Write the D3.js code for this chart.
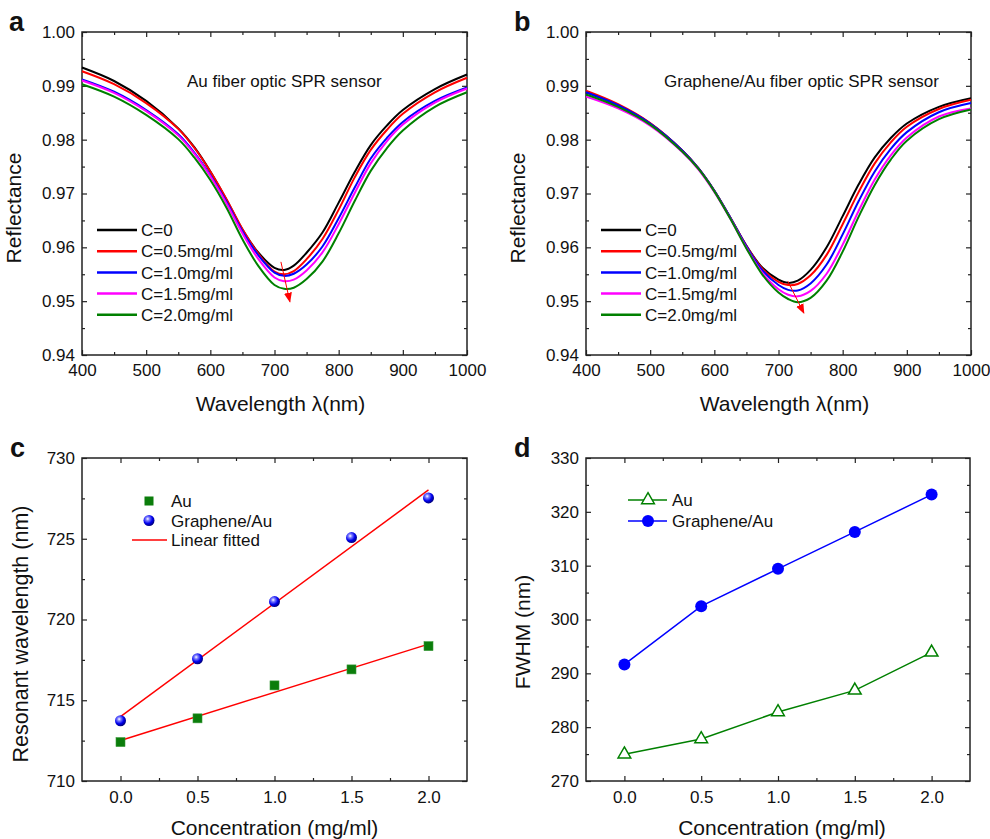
<!DOCTYPE html>
<html>
<head>
<meta charset="utf-8">
<script src="https://cdn.jsdelivr.net/npm/d3@7"></script>
<style>
  body { margin: 0; background: #fff; }
  svg { font-family: Arial, "Liberation Sans", sans-serif; }
  .tick line { stroke: #222; stroke-width: 1.2; }
  .tick text { font-size: 17px; fill: #111; }
</style>
</head>
<body>
<script>

// ---- data ----
const wavelength = [400,450,500,550,575,600,625,650,675,700,715,730,750,775,800,825,850,875,900,950,1000];

const concLabels = ["C=0","C=0.5mg/ml","C=1.0mg/ml","C=1.5mg/ml","C=2.0mg/ml"];
const curveColors = ["#000000","#ff0000","#0000ff","#ff00ff","#008000"];

// panel a : Au sensor
const auR0  = [0.9934,0.9909,0.9872,0.9821,0.9786,0.9741,0.9689,0.9633,0.9590,0.9562,0.9558,0.9566,0.9590,0.9628,0.9683,0.9740,0.9790,0.9826,0.9855,0.9894,0.9921];
const auR05 = [0.9927,0.9903,0.9868,0.9820,0.9785,0.9741,0.9690,0.9634,0.9588,0.9555,0.9550,0.9556,0.9578,0.9616,0.9670,0.9730,0.9781,0.9818,0.9848,0.9888,0.9915];
const auR10 = [0.9912,0.9889,0.9855,0.9810,0.9776,0.9734,0.9685,0.9630,0.9585,0.9553,0.9547,0.9551,0.9568,0.9602,0.9654,0.9711,0.9765,0.9803,0.9833,0.9872,0.9897];
const auR15 = [0.9910,0.9887,0.9853,0.9808,0.9774,0.9732,0.9682,0.9626,0.9578,0.9544,0.9537,0.9540,0.9557,0.9591,0.9643,0.9701,0.9756,0.9797,0.9828,0.9869,0.9895];
const auR20 = [0.9903,0.9880,0.9846,0.9801,0.9767,0.9725,0.9674,0.9615,0.9565,0.9530,0.9523,0.9525,0.9541,0.9574,0.9626,0.9686,0.9742,0.9784,0.9817,0.9861,0.9888];

// panel b : Graphene/Au sensor
const grR0  = [0.9888,0.9864,0.9830,0.9780,0.9747,0.9705,0.9655,0.9603,0.9562,0.9540,0.9534,0.9538,0.9558,0.9600,0.9658,0.9717,0.9767,0.9803,0.9830,0.9861,0.9877];
const grR05 = [0.9891,0.9866,0.9831,0.9780,0.9747,0.9705,0.9655,0.9603,0.9560,0.9536,0.9530,0.9532,0.9548,0.9586,0.9643,0.9703,0.9756,0.9795,0.9824,0.9857,0.9874];
const grR10 = [0.9888,0.9864,0.9830,0.9780,0.9747,0.9705,0.9655,0.9602,0.9557,0.9530,0.9521,0.9520,0.9533,0.9568,0.9624,0.9686,0.9741,0.9783,0.9814,0.9851,0.9868];
const grR15 = [0.9880,0.9858,0.9826,0.9777,0.9745,0.9703,0.9653,0.9599,0.9552,0.9522,0.9512,0.9509,0.9519,0.9551,0.9605,0.9668,0.9726,0.9771,0.9804,0.9843,0.9858];
const grR20 = [0.9884,0.9861,0.9828,0.9778,0.9746,0.9704,0.9653,0.9598,0.9549,0.9516,0.9504,0.9498,0.9506,0.9538,0.9592,0.9657,0.9716,0.9763,0.9798,0.9838,0.9856];

// red arrows (start / end, in data units)
const auArrow = [[710, 0.9573], [724, 0.9499]];
const grArrow = [[714.5, 0.9537], [739.5, 0.9478]];

// panels c and d
const concentration = [0, 0.5, 1.0, 1.5, 2.0];
const auResonance = [712.41, 713.88, 715.92, 716.91, 718.35];
const grResonance = [713.73, 717.57, 721.11, 725.07, 727.53];
const auFwhm = [274.96, 277.80, 282.81, 286.83, 293.88];
const grFwhm = [291.66, 302.48, 309.41, 316.27, 323.20];

const reflTicks = [0.94,0.95,0.96,0.97,0.98,0.99,1.00];
const reflMinor = [0.945,0.955,0.965,0.975,0.985,0.995];
const wlTicks = [400,500,600,700,800,900,1000];
const wlMinor = [450,550,650,750,850,950];
const concTicks = [0,0.5,1.0,1.5,2.0];
const concMinor = [0.25,0.75,1.25,1.75];
const resTicks = [710,715,720,725,730];
const resMinor = [712.5,717.5,722.5,727.5];
const fwhmTicks = [270,280,290,300,310,320,330];
const fwhmMinor = [275,285,295,305,315,325];

// ---- drawing ----
const svg = d3.select("body").append("svg").attr("width", 990).attr("height", 839);
const defs = svg.append("defs");

let ball = defs.append("radialGradient").attr("id", "ball")
  .attr("cx", "38%").attr("cy", "35%").attr("r", "65%");
ball.append("stop").attr("offset", "0%").attr("stop-color", "#ffffff");
ball.append("stop").attr("offset", "25%").attr("stop-color", "#8080ff");
ball.append("stop").attr("offset", "65%").attr("stop-color", "#0000ee");
ball.append("stop").attr("offset", "100%").attr("stop-color", "#000080");

defs.append("marker").attr("id", "arrowhead")
  .attr("viewBox", "0 0 10 10").attr("refX", 9).attr("refY", 5)
  .attr("markerWidth", 10).attr("markerHeight", 10)
  .attr("markerUnits", "userSpaceOnUse").attr("orient", "auto")
  .append("path").attr("d", "M0,1 L10,5 L0,9 Z").attr("fill", "#ff0000");

function makeFrame(px, py, pw, ph, x, y, o) {
  let g = svg.append("g").attr("transform", `translate(${px},${py})`);

  g.append("g").attr("transform", `translate(0,${ph})`)
    .call(d3.axisBottom(x).tickValues(o.xMaj).tickSize(-5).tickPadding(o.xPad).tickFormat(o.xf));
  g.append("g").attr("transform", `translate(0,${ph})`)
    .call(d3.axisBottom(x).tickValues(o.xMin).tickSize(-3).tickFormat(""));
  g.append("g")
    .call(d3.axisTop(x).tickValues(o.xMaj).tickSize(-5).tickFormat(""));
  g.append("g")
    .call(d3.axisTop(x).tickValues(o.xMin).tickSize(-3).tickFormat(""));
  g.append("g")
    .call(d3.axisLeft(y).tickValues(o.yMaj).tickSize(-5).tickPadding(7).tickFormat(o.yf));
  g.append("g")
    .call(d3.axisLeft(y).tickValues(o.yMin).tickSize(-3).tickFormat(""));
  g.append("g").attr("transform", `translate(${pw},0)`)
    .call(d3.axisRight(y).tickValues(o.yMaj).tickSize(-5).tickFormat(""));
  g.append("g").attr("transform", `translate(${pw},0)`)
    .call(d3.axisRight(y).tickValues(o.yMin).tickSize(-3).tickFormat(""));

  g.selectAll(".domain").remove();

  g.append("rect").attr("width", pw).attr("height", ph)
    .attr("fill", "none").attr("stroke", "#222").attr("stroke-width", 1.5);
  return g;
}

function sideText(x, y, txt, size, rot, anchor, weight) {
  let t = svg.append("text").attr("x", x).attr("y", y)
    .attr("font-size", size).attr("fill", "#111")
    .attr("text-anchor", anchor || "middle")
    .attr("font-weight", weight || "normal")
    .text(txt);
  if (rot) t.attr("transform", `rotate(-90,${x},${y})`);
  return t;
}

// --- panels a & b ---
function spectrumPanel(px, allSeries, arrow, note, noteX) {
  let pw = 385, ph = 323, py = 32;
  let x = d3.scaleLinear().domain([400, 1000]).range([0, pw]);
  let y = d3.scaleLinear().domain([0.94, 1.00]).range([ph, 0]);

  let g = makeFrame(px, py, pw, ph, x, y, {
    xMaj: wlTicks, xMin: wlMinor, xPad: 9, xf: d3.format("d"),
    yMaj: reflTicks, yMin: reflMinor, yf: d3.format(".2f")
  });

  let line = d3.line()
    .x((d, i) => x(wavelength[i]))
    .y(d => y(d))
    .curve(d3.curveCatmullRom.alpha(0.5));

  g.selectAll(".spec").data(allSeries).join("path")
    .attr("class", "spec")
    .attr("d", d => line(d))
    .attr("fill", "none")
    .attr("stroke", (d, i) => curveColors[i])
    .attr("stroke-width", 2);

  g.append("line")
    .attr("x1", x(arrow[0][0])).attr("y1", y(arrow[0][1]))
    .attr("x2", x(arrow[1][0])).attr("y2", y(arrow[1][1]))
    .attr("stroke", "#ff0000").attr("stroke-width", 1)
    .attr("marker-end", "url(#arrowhead)");

  g.append("text").attr("x", noteX).attr("y", 55)
    .attr("font-size", 17).attr("fill", "#111").text(note);

  // legend
  let leg = g.selectAll(".leg").data(concLabels).join("g")
    .attr("class", "leg")
    .attr("transform", (d, i) => `translate(${15},${198 + i * 21.2})`);
  leg.append("line").attr("x1", 0).attr("x2", 40)
    .attr("stroke", (d, i) => curveColors[i]).attr("stroke-width", 2.5);
  leg.append("text").attr("x", 44).attr("dy", "0.36em")
    .attr("font-size", 17).attr("fill", "#111").text(d => d);

  sideText(px + pw / 2 + 6, 411, "Wavelength λ(nm)", 21);
  sideText(px - 61, 208, "Reflectance", 21, true);
}

spectrumPanel(82, [auR0, auR05, auR10, auR15, auR20], auArrow, "Au fiber optic SPR sensor", 105);
spectrumPanel(586, [grR0, grR05, grR10, grR15, grR20], grArrow, "Graphene/Au fiber optic SPR sensor", 78);

// --- panel c ---
{
  let px = 82, py = 458, pw = 385, ph = 323;
  let x = d3.scaleLinear().domain([-0.25, 2.25]).range([0, pw]);
  let y = d3.scaleLinear().domain([710, 730]).range([ph, 0]);
  let g = makeFrame(px, py, pw, ph, x, y, {
    xMaj: concTicks, xMin: concMinor, xPad: 10, xf: d3.format(".1f"),
    yMaj: resTicks, yMin: resMinor, yf: d3.format("d")
  });

  // least squares fit for each series
  function fit(ys) {
    let mx = d3.mean(concentration), my = d3.mean(ys);
    let sxy = d3.sum(concentration, (c, i) => (c - mx) * (ys[i] - my));
    let sxx = d3.sum(concentration, c => (c - mx) * (c - mx));
    let b = sxy / sxx;
    return [[0, my - b * mx], [2, my + b * (2 - mx)]];
  }
  let fitLine = d3.line().x(d => x(d[0])).y(d => y(d[1]));
  [auResonance, grResonance].forEach(s => {
    g.append("path").attr("d", fitLine(fit(s)))
      .attr("stroke", "#ff0000").attr("stroke-width", 1.5).attr("fill", "none");
  });

  g.selectAll(".sq").data(auResonance).join("rect").attr("class", "sq")
    .attr("x", (d, i) => x(concentration[i]) - 4.5)
    .attr("y", d => y(d) - 4.5)
    .attr("width", 9).attr("height", 9)
    .attr("fill", "#0b7d0b").attr("stroke", "#3a9a3a").attr("stroke-width", 0.6);

  g.selectAll(".ball").data(grResonance).join("circle").attr("class", "ball")
    .attr("cx", (d, i) => x(concentration[i]))
    .attr("cy", d => y(d))
    .attr("r", 5.5).attr("fill", "url(#ball)");

  // legend
  g.append("rect").attr("x", 62.5).attr("y", 38.5).attr("width", 9).attr("height", 9).attr("fill", "#0b7d0b");
  g.append("circle").attr("cx", 67).attr("cy", 62.5).attr("r", 5.5).attr("fill", "url(#ball)");
  g.append("line").attr("x1", 50).attr("x2", 85).attr("y1", 82).attr("y2", 82)
    .attr("stroke", "#ff0000").attr("stroke-width", 1.5);
  let legTexts = ["Au", "Graphene/Au", "Linear fitted"];
  g.selectAll(".lt").data(legTexts).join("text").attr("class", "lt")
    .attr("x", 89).attr("y", (d, i) => 43 + i * 19.5).attr("dy", "0.36em")
    .attr("font-size", 17).attr("fill", "#111").text(d => d);

  sideText(px + pw / 2, 835, "Concentration (mg/ml)", 21);
  sideText(px - 54, 634, "Resonant wavelength (nm)", 21.5, true);
}

// --- panel d ---
{
  let px = 586, py = 458, pw = 384, ph = 323;
  let x = d3.scaleLinear().domain([-0.25, 2.25]).range([0, pw]);
  let y = d3.scaleLinear().domain([270, 330]).range([ph, 0]);
  let g = makeFrame(px, py, pw, ph, x, y, {
    xMaj: concTicks, xMin: concMinor, xPad: 10, xf: d3.format(".1f"),
    yMaj: fwhmTicks, yMin: fwhmMinor, yf: d3.format("d")
  });

  let ln = d3.line().x((d, i) => x(concentration[i])).y(d => y(d));
  g.append("path").attr("d", ln(grFwhm)).attr("fill", "none")
    .attr("stroke", "#0000ff").attr("stroke-width", 1.5);
  g.append("path").attr("d", ln(auFwhm)).attr("fill", "none")
    .attr("stroke", "#008000").attr("stroke-width", 1.5);

  let tri = d3.symbol(d3.symbolTriangle).size(70);
  g.selectAll(".tri").data(auFwhm).join("path").attr("class", "tri")
    .attr("d", tri)
    .attr("transform", (d, i) => `translate(${x(concentration[i])},${y(d)})`)
    .attr("fill", "#fff").attr("stroke", "#008000").attr("stroke-width", 1.5);

  g.selectAll(".dot").data(grFwhm).join("circle").attr("class", "dot")
    .attr("cx", (d, i) => x(concentration[i])).attr("cy", d => y(d))
    .attr("r", 6).attr("fill", "#0000ff");

  // legend
  g.append("line").attr("x1", 42).attr("x2", 81).attr("y1", 42).attr("y2", 42)
    .attr("stroke", "#008000").attr("stroke-width", 1.5);
  g.append("path").attr("d", tri).attr("transform", "translate(62,42)")
    .attr("fill", "#fff").attr("stroke", "#008000").attr("stroke-width", 1.5);
  g.append("line").attr("x1", 42).attr("x2", 81).attr("y1", 63).attr("y2", 63)
    .attr("stroke", "#0000ff").attr("stroke-width", 1.5);
  g.append("circle").attr("cx", 62).attr("cy", 63).attr("r", 6).attr("fill", "#0000ff");
  g.selectAll(".lt").data(["Au", "Graphene/Au"]).join("text").attr("class", "lt")
    .attr("x", 86).attr("y", (d, i) => 42 + i * 21).attr("dy", "0.36em")
    .attr("font-size", 17).attr("fill", "#111").text(d => d);

  sideText(px + pw / 2 + 4, 835, "Concentration (mg/ml)", 21);
  sideText(px - 56, 632, "FWHM (nm)", 21, true);
}

// panel letters
sideText(9, 31, "a", 27, false, "start", "bold");
sideText(514, 31, "b", 27, false, "start", "bold");
sideText(10, 457, "c", 27, false, "start", "bold");
sideText(514, 457, "d", 27, false, "start", "bold");

</script>
</body>
</html>
